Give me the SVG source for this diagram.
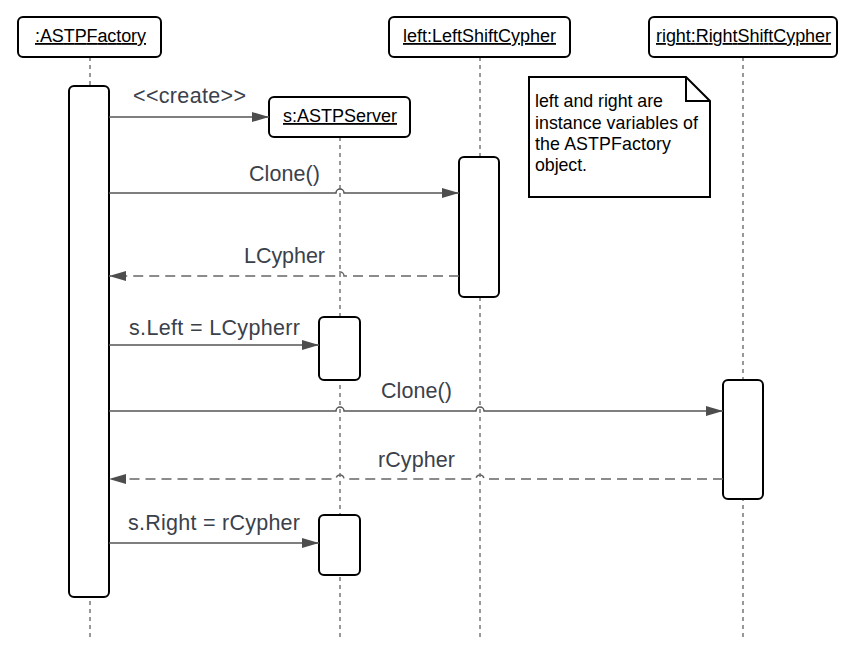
<svg xmlns="http://www.w3.org/2000/svg" width="850" height="657" viewBox="0 0 850 657">
<style>
.hdr{fill:#fff;stroke:#000;stroke-width:2}
.act{fill:#fff;stroke:#000;stroke-width:2}
.life{stroke:#333;stroke-width:1;stroke-dasharray:4 4;fill:none}
.msg{stroke:#555;stroke-width:1.5;fill:none}
.ret{stroke:#666;stroke-width:1.5;fill:none;stroke-dasharray:10 6}
.ht{font-family:"Liberation Sans",Arial,sans-serif;font-size:18px;fill:#000;text-decoration:underline}
.ml{font-family:"Liberation Sans",Arial,sans-serif;font-size:21.5px;fill:#3a414a}
.nt{font-family:"Liberation Sans",Arial,sans-serif;font-size:17.8px;fill:#000}
</style>
<defs>
<marker id="ah" viewBox="0 0 17 10" refX="17" refY="5" markerWidth="17" markerHeight="10" markerUnits="userSpaceOnUse" orient="auto">
<path d="M0,0 L17,5 L0,10 Z" fill="#4d4d4d"/>
</marker>
</defs>
<rect width="850" height="657" fill="#fff"/>
<g id="lifelines">
<line class="life" x1="90" y1="57" x2="90" y2="637"/>
<line class="life" x1="340" y1="137" x2="340" y2="637"/>
<line class="life" x1="480" y1="57" x2="480" y2="637"/>
<line class="life" x1="743" y1="57" x2="743" y2="637"/>
</g>
<g id="astpfactory">
<rect class="hdr" x="18" y="17" width="143" height="40" rx="5"/>
<text class="ht" x="35" y="42" textLength="111" lengthAdjust="spacing">:ASTPFactory</text>
</g>
<g id="leftshift">
<rect class="hdr" x="389" y="17" width="181" height="40" rx="5"/>
<text class="ht" x="403" y="42" textLength="153" lengthAdjust="spacing">left:LeftShiftCypher</text>
</g>
<g id="rightshift">
<rect class="hdr" x="649" y="17" width="188" height="40" rx="5"/>
<text class="ht" x="656" y="42" textLength="175" lengthAdjust="spacing">right:RightShiftCypher</text>
</g>
<g id="astpserver">
<rect class="hdr" x="269" y="97" width="141" height="40" rx="5"/>
<text class="ht" x="283" y="122" textLength="114" lengthAdjust="spacing">s:ASTPServer</text>
</g>
<g id="note">
<path d="M529,77 H686 L710,101 V197 H529 Z" fill="#fff" stroke="#000" stroke-width="2"/>
<path d="M686,77 V101 H710" fill="none" stroke="#000" stroke-width="2"/>
<text class="nt" x="535" y="107" textLength="128" lengthAdjust="spacing">left and right are</text>
<text class="nt" x="535" y="129" textLength="163" lengthAdjust="spacing">instance variables of</text>
<text class="nt" x="535" y="150" textLength="136" lengthAdjust="spacing">the ASTPFactory</text>
<text class="nt" x="535" y="171" textLength="52" lengthAdjust="spacing">object.</text>
</g>
<g id="activations">
<rect id="act-factory" class="act" x="69" y="86" width="40" height="511" rx="5"/>
<rect id="act-left" class="act" x="459" y="157" width="40" height="140" rx="5"/>
<rect id="act-server1" class="act" x="319" y="317" width="41" height="63" rx="5"/>
<rect id="act-right" class="act" x="723" y="380" width="40" height="119" rx="5"/>
<rect id="act-server2" class="act" x="319" y="515" width="41" height="60" rx="5"/>
</g>
<g id="connectors">
<path class="msg" d="M109,117 H269" marker-end="url(#ah)"/>
<path class="msg" d="M109,193 H336 A4,4 0 0 1 344,193 H459" marker-end="url(#ah)"/>
<path class="ret" d="M459,276 H344 A4,4 0 0 0 336,276 H109" marker-end="url(#ah)"/>
<path class="msg" d="M109,345 H319" marker-end="url(#ah)"/>
<path class="msg" d="M109,411 H336 A4,4 0 0 1 344,411 H476 A4,4 0 0 1 484,411 H723" marker-end="url(#ah)"/>
<path class="ret" d="M723,479 H484 A4,4 0 0 0 476,479 H344 A4,4 0 0 0 336,479 H109" marker-end="url(#ah)"/>
<path class="msg" d="M109,543 H319" marker-end="url(#ah)"/>
</g>
<g id="labels">
<text class="ml" x="133" y="103" textLength="113" lengthAdjust="spacing">&lt;&lt;create&gt;&gt;</text>
<text class="ml" x="249" y="181" textLength="71" lengthAdjust="spacing">Clone()</text>
<text class="ml" x="244" y="263" textLength="81" lengthAdjust="spacing">LCypher</text>
<text class="ml" x="129" y="335" textLength="171" lengthAdjust="spacing">s.Left = LCypherr</text>
<text class="ml" x="381" y="398" textLength="71" lengthAdjust="spacing">Clone()</text>
<text class="ml" x="378" y="467" textLength="77" lengthAdjust="spacing">rCypher</text>
<text class="ml" x="128" y="530" textLength="172" lengthAdjust="spacing">s.Right = rCypher</text>
</g>
</svg>
